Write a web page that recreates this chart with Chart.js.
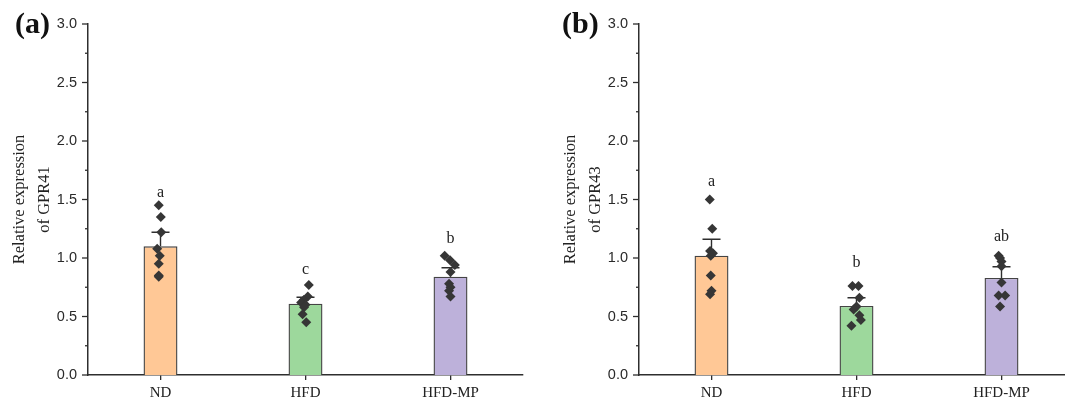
<!DOCTYPE html>
<html>
<head>
<meta charset="utf-8">
<script src="https://cdn.jsdelivr.net/npm/chart.js@4.4.1/dist/chart.umd.min.js"></script>
<style>
    html, body { margin: 0; padding: 0; background: #fff; }
    body { width: 1065px; height: 407px; overflow: hidden; position: relative; }
    canvas { position: absolute; top: 0; }
    #chartA { left: 0; }
    #chartB { left: 551px; }
</style>
</head>
<body>
<canvas id="chartA" width="540" height="407"></canvas>
<canvas id="chartB" width="540" height="407"></canvas>
<script>
// groups and y ticks
const groups = ['ND', 'HFD', 'HFD-MP'];
const yTickLabels = [0, 0.5, 1.0, 1.5, 2.0, 2.5, 3.0];
const groupColors = ['#FFC896', '#9DD89C', '#BDB1DA'];

// panel (a) GPR41
const gpr41Mean = [1.10, 0.61, 0.84];
const gpr41Sem = [0.12, 0.055, 0.077];
const gpr41Letters = ['a', 'c', 'b'];
const gpr41LetterY = [1.56, 0.90, 1.16];
const gpr41Dots = [
    [1.45, 1.35, 1.22, 1.08, 1.02, 0.95, 0.85, 0.84],
    [0.77, 0.67, 0.64, 0.62, 0.60, 0.58, 0.52, 0.45],
    [1.02, 0.98, 0.94, 0.88, 0.78, 0.75, 0.72, 0.67]
];
const gpr41Jitter = [
    [-0.012, 0.002, 0.005, -0.023, -0.005, -0.012, -0.012, -0.012],
    [0.023, 0.016, -0.012, -0.03, 0.0, -0.01, -0.02, 0.005],
    [-0.04, -0.003, 0.03, 0.0, -0.01, 0.0, -0.01, 0.0]
];

// panel (b) GPR43
const gpr43Mean = [1.02, 0.59, 0.83];
const gpr43Sem = [0.14, 0.07, 0.095];
const gpr43Letters = ['a', 'b', 'ab'];
const gpr43LetterY = [1.65, 0.955, 1.18];
const gpr43Dots = [
    [1.50, 1.25, 1.06, 1.04, 1.02, 0.85, 0.72, 0.69],
    [0.76, 0.76, 0.66, 0.585, 0.56, 0.51, 0.47, 0.42],
    [1.02, 1.00, 0.97, 0.93, 0.79, 0.68, 0.68, 0.585]
];
const gpr43Jitter = [
    [-0.012, 0.005, -0.01, 0.01, -0.005, -0.005, 0.0, -0.01],
    [-0.028, 0.014, 0.02, 0.0, -0.02, 0.02, 0.03, -0.035],
    [-0.02, -0.01, 0.0, 0.0, 0.0, -0.02, 0.025, -0.01]
];

const ink = '#2e2e2e';

// error bars (upper whisker only), letters and panel tag
const extrasPlugin = {
    id: 'extras',
    afterDatasetDraw(chart, args, opts) {
        if (args.index !== 1) return; // bars dataset
        const ctx = chart.ctx;
        const x = chart.scales.x;
        const y = chart.scales.y;
        ctx.save();
        ctx.strokeStyle = ink;
        ctx.lineWidth = 1.4;
        opts.mean.forEach((m, i) => {
            const px = x.getPixelForValue(i);
            const yTop = y.getPixelForValue(m + opts.sem[i]);
            const yBar = y.getPixelForValue(m);
            ctx.beginPath();
            ctx.moveTo(px, yBar);
            ctx.lineTo(px, yTop);
            ctx.moveTo(px - 9, yTop);
            ctx.lineTo(px + 9, yTop);
            ctx.stroke();
        });
        ctx.restore();
    },
    afterDraw(chart, args, opts) {
        const ctx = chart.ctx;
        const x = chart.scales.x;
        const y = chart.scales.y;
        ctx.save();

        // y ticks, long on the labelled ones
        ctx.strokeStyle = ink;
        ctx.lineWidth = 1.3;
        y.ticks.forEach(t => {
            const py = y.getPixelForValue(t.value);
            const major = Math.abs(t.value * 2 - Math.round(t.value * 2)) < 1e-6;
            const len = major ? 6 : 3;
            ctx.beginPath();
            ctx.moveTo(y.right - len, py);
            ctx.lineTo(y.right, py);
            ctx.stroke();
        });

        // significance letters
        ctx.fillStyle = '#222';
        ctx.font = '16px "Liberation Serif", serif';
        ctx.textAlign = 'center';
        ctx.textBaseline = 'middle';
        opts.letters.forEach((l, i) => {
            ctx.fillText(l, x.getPixelForValue(i), y.getPixelForValue(opts.letterY[i]));
        });

        // panel tag
        ctx.font = 'bold 30px "Liberation Serif", serif';
        ctx.textAlign = 'left';
        ctx.fillStyle = '#111';
        ctx.fillText(opts.tag, opts.tagX, 25);
        ctx.restore();
    }
};

function makeChart(canvasId, title, mean, sem, dots, jitter, letters, letterY, tag, tagX) {
    const points = [];
    dots.forEach((list, i) => {
        list.forEach((v, j) => points.push({ x: i + jitter[i][j], y: v }));
    });

    return new Chart(document.getElementById(canvasId), {
        type: 'bar',
        data: {
            labels: groups,
            datasets: [
                {
                    type: 'scatter',
                    data: points,
                    xAxisID: 'x2',
                    pointStyle: 'rectRot',
                    pointRadius: 5,
                    pointBorderWidth: 0,
                    backgroundColor: '#363636',
                    borderColor: '#363636'
                },
                {
                    data: mean,
                    grouped: false,
                    backgroundColor: groupColors,
                    borderColor: '#444',
                    borderWidth: 1.4,
                    categoryPercentage: 1,
                    barPercentage: 0.234
                }
            ]
        },
        options: {
            responsive: false,
            animation: false,
            layout: { padding: { left: 0, right: 17, top: 24, bottom: 0 } },
            plugins: {
                legend: { display: false },
                tooltip: { enabled: false },
                extras: { mean: mean, sem: sem, letters: letters, letterY: letterY, tag: tag, tagX: tagX }
            },
            scales: {
                x: {
                    type: 'category',
                    offset: true,
                    grid: { display: true, drawOnChartArea: false, offset: false, tickLength: 5, color: ink, lineWidth: 1.3 },
                    border: { display: true, color: ink, width: 1.5 },
                    ticks: { color: '#222', padding: 4, font: { family: '"Liberation Serif", serif', size: 15 } },
                    afterFit: s => { s.height = 32; }
                },
                // hidden linear axis so the dots can sit a little off centre
                x2: { type: 'linear', display: false, offset: false, min: -0.5, max: 2.5 },
                y: {
                    min: 0,
                    max: 3,
                    grid: { display: false, drawTicks: false },
                    border: { display: true, color: ink, width: 1.5 },
                    ticks: {
                        stepSize: 0.25,
                        autoSkip: false,
                        padding: 11,
                        color: '#2a2a2a',
                        font: { family: '"Liberation Sans", Arial, sans-serif', size: 14.5 },
                        callback: v => yTickLabels.some(t => Math.abs(t - v) < 1e-6) ? v.toFixed(1) : ''
                    },
                    title: {
                        display: true,
                        text: title,
                        color: '#222',
                        padding: { top: 7.5, bottom: 0 },
                        font: { family: '"Liberation Serif", serif', size: 16.5, lineHeight: 1.5 }
                    },
                    afterFit: s => { s.width = 88; }
                }
            }
        },
        plugins: [extrasPlugin]
    });
}

try {
    makeChart('chartA', ['Relative expression', 'of GPR41'], gpr41Mean, gpr41Sem, gpr41Dots, gpr41Jitter, gpr41Letters, gpr41LetterY, '(a)', 15);
    makeChart('chartB', ['Relative expression', 'of GPR43'], gpr43Mean, gpr43Sem, gpr43Dots, gpr43Jitter, gpr43Letters, gpr43LetterY, '(b)', 11);
} catch (error) {
    console.error('Error drawing charts:', error);
}
</script>
</body>
</html>
